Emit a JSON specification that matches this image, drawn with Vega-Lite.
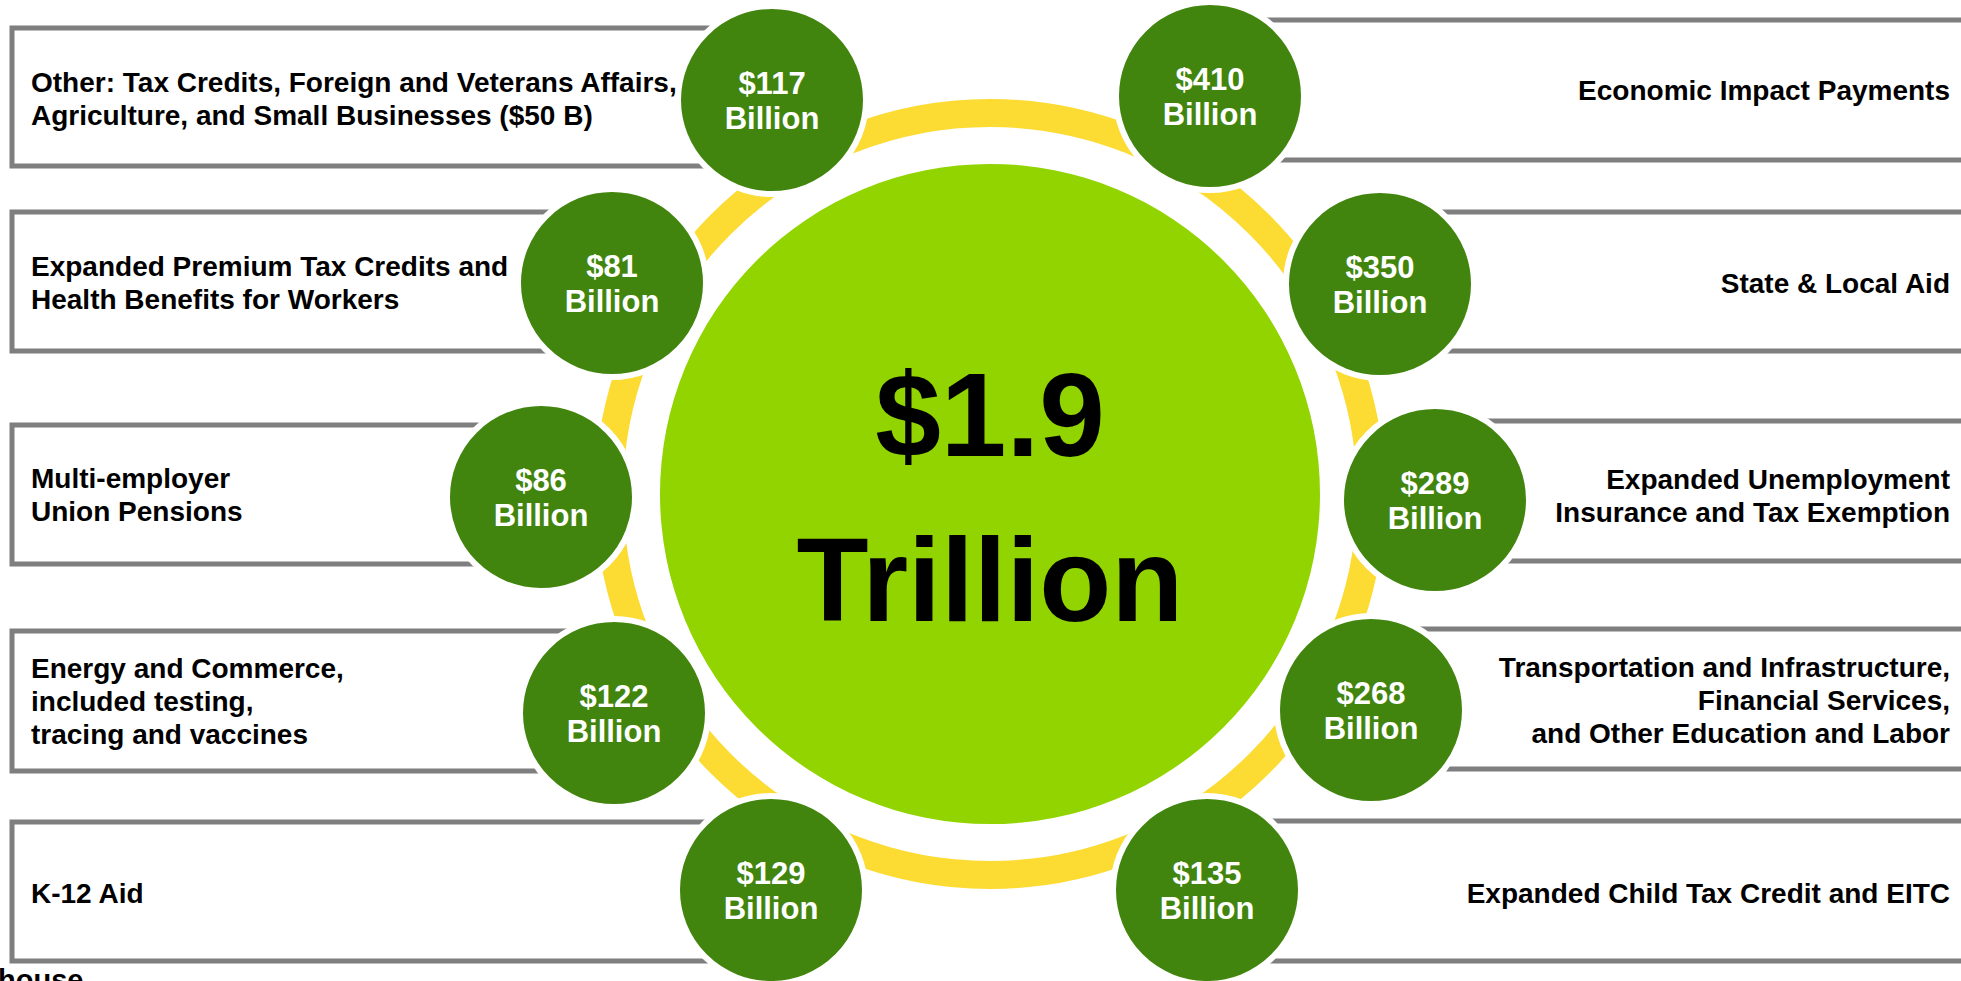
{
  "$schema": "https://vega.github.io/schema/vega-lite/v6.json",
  "width": 1961,
  "height": 981,
  "padding": 0,
  "autosize": {"type": "none"},
  "background": "white",
  "config": {"view": {"stroke": null}},
  "datasets": {
    "items": [
      {"side": "left", "amount": "$117", "label": "Other: Tax Credits, Foreign and Veterans Affairs,\nAgriculture, and Small Businesses ($50 B)", "cx": 772, "cy": 100, "bx1": 12, "bx2": 772, "top": 28, "bottom": 166, "lx": 31, "ly": 84},
      {"side": "left", "amount": "$81", "label": "Expanded Premium Tax Credits and\nHealth Benefits for Workers", "cx": 612, "cy": 283, "bx1": 12, "bx2": 612, "top": 212, "bottom": 351, "lx": 31, "ly": 268},
      {"side": "left", "amount": "$86", "label": "Multi-employer\nUnion Pensions", "cx": 541, "cy": 497, "bx1": 12, "bx2": 541, "top": 425, "bottom": 564, "lx": 31, "ly": 480},
      {"side": "left", "amount": "$122", "label": "Energy and Commerce,\nincluded testing,\ntracing and vaccines", "cx": 614, "cy": 713, "bx1": 12, "bx2": 614, "top": 631, "bottom": 771, "lx": 31, "ly": 670},
      {"side": "left", "amount": "$129", "label": "K-12 Aid", "cx": 771, "cy": 890, "bx1": 12, "bx2": 771, "top": 822, "bottom": 961, "lx": 31, "ly": 895},
      {"side": "right", "amount": "$410", "label": "Economic Impact Payments", "cx": 1210, "cy": 96, "bx1": 1210, "bx2": 1980, "top": 20, "bottom": 160, "lx": 1950, "ly": 92},
      {"side": "right", "amount": "$350", "label": "State & Local Aid", "cx": 1380, "cy": 284, "bx1": 1380, "bx2": 1980, "top": 212, "bottom": 351, "lx": 1950, "ly": 285},
      {"side": "right", "amount": "$289", "label": "Expanded Unemployment\nInsurance and Tax Exemption", "cx": 1435, "cy": 500, "bx1": 1435, "bx2": 1980, "top": 421, "bottom": 561, "lx": 1950, "ly": 481},
      {"side": "right", "amount": "$268", "label": "Transportation and Infrastructure,\nFinancial Services,\nand Other Education and Labor", "cx": 1371, "cy": 710, "bx1": 1371, "bx2": 1980, "top": 629, "bottom": 769, "lx": 1950, "ly": 669},
      {"side": "right", "amount": "$135", "label": "Expanded Child Tax Credit and EITC", "cx": 1207, "cy": 890, "bx1": 1207, "bx2": 1980, "top": 821, "bottom": 961, "lx": 1950, "ly": 895}
    ],
    "center": [{"cx": 990, "cy": 494}],
    "big": [
      {"t": "$1.9", "x": 990, "y": 456},
      {"t": "Trillion", "x": 990, "y": 621}
    ],
    "source": [{"t": "house", "x": -2, "y": 990}]
  },
  "layer": [
    {
      "data": {"name": "items"},
      "mark": {"type": "rect", "fill": "white", "stroke": "#7f7f7f", "strokeWidth": 5, "clip": true},
      "encoding": {
        "x": {"field": "bx1", "type": "quantitative", "scale": {"domain": [0, 1961], "nice": false, "zero": false}, "axis": null},
        "x2": {"field": "bx2"},
        "y": {"field": "top", "type": "quantitative", "scale": {"domain": [0, 981], "nice": false, "zero": false, "reverse": true}, "axis": null},
        "y2": {"field": "bottom"}
      }
    },
    {
      "data": {"name": "center"},
      "mark": {"type": "point", "shape": "circle", "filled": false, "stroke": "#fcdb33", "strokeWidth": 28, "size": 580644, "opacity": 1, "clip": true},
      "encoding": {
        "x": {"field": "cx", "type": "quantitative", "scale": {"domain": [0, 1961], "nice": false, "zero": false}, "axis": null},
        "y": {"field": "cy", "type": "quantitative", "scale": {"domain": [0, 981], "nice": false, "zero": false, "reverse": true}, "axis": null}
      }
    },
    {
      "data": {"name": "center"},
      "mark": {"type": "point", "shape": "circle", "filled": true, "fill": "#92d400", "strokeWidth": 0, "size": 435600, "opacity": 1, "clip": true},
      "encoding": {
        "x": {"field": "cx", "type": "quantitative", "scale": {"domain": [0, 1961], "nice": false, "zero": false}, "axis": null},
        "y": {"field": "cy", "type": "quantitative", "scale": {"domain": [0, 981], "nice": false, "zero": false, "reverse": true}, "axis": null}
      }
    },
    {
      "data": {"name": "items"},
      "mark": {"type": "point", "shape": "circle", "filled": true, "fill": "#42850e", "stroke": "white", "strokeWidth": 6, "size": 35344, "opacity": 1, "clip": true},
      "encoding": {
        "x": {"field": "cx", "type": "quantitative", "scale": {"domain": [0, 1961], "nice": false, "zero": false}, "axis": null},
        "y": {"field": "cy", "type": "quantitative", "scale": {"domain": [0, 981], "nice": false, "zero": false, "reverse": true}, "axis": null}
      }
    },
    {
      "data": {"name": "items"},
      "mark": {"type": "text", "color": "white", "font": "Liberation Sans", "fontWeight": "bold", "fontSize": 31, "align": "center", "baseline": "middle", "dy": -15},
      "encoding": {
        "x": {"field": "cx", "type": "quantitative", "scale": {"domain": [0, 1961], "nice": false, "zero": false}, "axis": null},
        "y": {"field": "cy", "type": "quantitative", "scale": {"domain": [0, 981], "nice": false, "zero": false, "reverse": true}, "axis": null},
        "text": {"field": "amount", "type": "nominal"}
      }
    },
    {
      "data": {"name": "items"},
      "mark": {"type": "text", "text": "Billion", "color": "white", "font": "Liberation Sans", "fontWeight": "bold", "fontSize": 31, "align": "center", "baseline": "middle", "dy": 20},
      "encoding": {
        "x": {"field": "cx", "type": "quantitative", "scale": {"domain": [0, 1961], "nice": false, "zero": false}, "axis": null},
        "y": {"field": "cy", "type": "quantitative", "scale": {"domain": [0, 981], "nice": false, "zero": false, "reverse": true}, "axis": null}
      }
    },
    {
      "data": {"name": "items"},
      "transform": [{"filter": "datum.side === 'left'"}],
      "mark": {"type": "text", "color": "black", "font": "Liberation Sans", "fontWeight": "bold", "fontSize": 28, "align": "left", "baseline": "middle", "lineBreak": "\n", "lineHeight": 33},
      "encoding": {
        "x": {"field": "lx", "type": "quantitative", "scale": {"domain": [0, 1961], "nice": false, "zero": false}, "axis": null},
        "y": {"field": "ly", "type": "quantitative", "scale": {"domain": [0, 981], "nice": false, "zero": false, "reverse": true}, "axis": null},
        "text": {"field": "label", "type": "nominal"}
      }
    },
    {
      "data": {"name": "items"},
      "transform": [{"filter": "datum.side === 'right'"}],
      "mark": {"type": "text", "color": "black", "font": "Liberation Sans", "fontWeight": "bold", "fontSize": 28, "align": "right", "baseline": "middle", "lineBreak": "\n", "lineHeight": 33},
      "encoding": {
        "x": {"field": "lx", "type": "quantitative", "scale": {"domain": [0, 1961], "nice": false, "zero": false}, "axis": null},
        "y": {"field": "ly", "type": "quantitative", "scale": {"domain": [0, 981], "nice": false, "zero": false, "reverse": true}, "axis": null},
        "text": {"field": "label", "type": "nominal"}
      }
    },
    {
      "data": {"name": "big"},
      "mark": {"type": "text", "color": "black", "font": "Liberation Sans", "fontWeight": "bold", "fontSize": 118, "align": "center", "baseline": "alphabetic"},
      "encoding": {
        "x": {"field": "x", "type": "quantitative", "scale": {"domain": [0, 1961], "nice": false, "zero": false}, "axis": null},
        "y": {"field": "y", "type": "quantitative", "scale": {"domain": [0, 981], "nice": false, "zero": false, "reverse": true}, "axis": null},
        "text": {"field": "t", "type": "nominal"}
      }
    },
    {
      "data": {"name": "source"},
      "mark": {"type": "text", "color": "black", "font": "Liberation Sans", "fontWeight": "bold", "fontSize": 29, "align": "left", "baseline": "alphabetic", "clip": true},
      "encoding": {
        "x": {"field": "x", "type": "quantitative", "scale": {"domain": [0, 1961], "nice": false, "zero": false}, "axis": null},
        "y": {"field": "y", "type": "quantitative", "scale": {"domain": [0, 981], "nice": false, "zero": false, "reverse": true}, "axis": null},
        "text": {"field": "t", "type": "nominal"}
      }
    }
  ]
}
